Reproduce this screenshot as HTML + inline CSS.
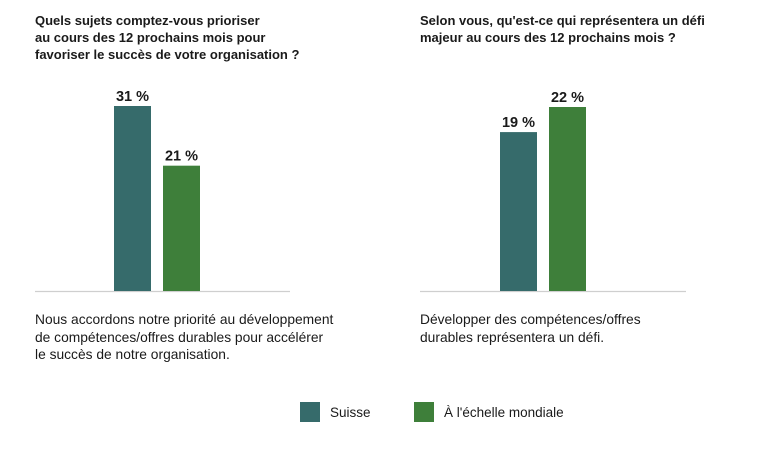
<!DOCTYPE html>
<html><head><meta charset="utf-8"><style>
body{margin:0;width:766px;height:452px;background:#fff;font-family:"Liberation Sans",sans-serif;color:#1a1a1a;overflow:hidden}
.t{position:absolute;font-size:13px;font-weight:bold;line-height:17px}
.d{position:absolute;font-size:13.8px;line-height:17.5px}
</style></head><body>
<div class="t" style="left:35px;top:12px">Quels sujets comptez-vous prioriser<br>au cours des 12 prochains mois pour<br>favoriser le succès de votre organisation ?</div>
<div class="t" style="left:420px;top:12px">Selon vous, qu'est-ce qui représentera un défi<br>majeur au cours des 12 prochains mois ?</div>
<div class="d" style="left:35px;top:311px">Nous accordons notre priorité au développement<br>de compétences/offres durables pour accélérer<br>le succès de notre organisation.</div>
<div class="d" style="left:420px;top:311px">Développer des compétences/offres<br>durables représentera un défi.</div>
<svg id="c" width="766" height="452" style="position:absolute;left:0;top:0"></svg>
<script>
const series = ["Suisse","À l'échelle mondiale"];
const leftValues = [31, 21];
const rightValues = [19, 22];
const colors = ["#366b6b","#3e7f3a"];
const svg = document.getElementById('c');
const NS = "http://www.w3.org/2000/svg";
function mk(t,a){const e=document.createElementNS(NS,t);for(const k in a)e.setAttribute(k,a[k]);svg.appendChild(e);return e;}
function chart(vals, x0, x1, bx, maxH, name){
  const base=291;
  const mx=Math.max(...vals);
  const y=v=>base-v/mx*maxH;
  const l=mk('line',{x1:x0,x2:x1,y1:base+0.5,y2:base+0.5,stroke:'#cfcfcf','stroke-width':1.2});
  
  
  vals.forEach((v,i)=>{
    const x=bx+i*49;
    const r=mk('rect',{x:x,y:y(v),width:37,height:base-y(v),fill:colors[i]});
    
    
    const t=mk('text',{x:x+18.5,y:y(v)-5,'text-anchor':'middle','font-size':14.5,'font-weight':'bold',fill:'#1a1a1a','font-family':'Liberation Sans, sans-serif'});
    t.textContent=v+' %';
    
    
  });
}
chart(leftValues,35,290,114,185,'left');
chart(rightValues,420,686,500,184,'right');
const lx=[300,414];
series.forEach((s,i)=>{
  const r=mk('rect',{x:lx[i],y:402,width:20,height:20,fill:colors[i]});
  
  
  const t=mk('text',{x:lx[i]+30,y:417,'font-size':13.5,fill:'#1a1a1a','font-family':'Liberation Sans, sans-serif'});
  t.textContent=s;
  
  
});
</script>
</body></html>
